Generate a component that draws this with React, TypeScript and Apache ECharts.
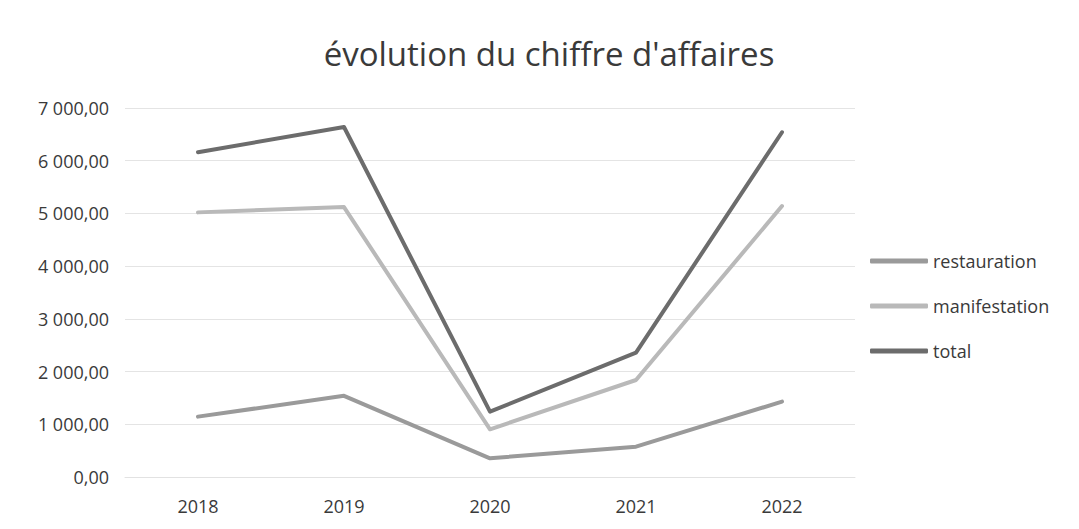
import React, { useEffect, useRef } from "react";
import * as echarts from "echarts";

const categories = ["2018", "2019", "2020", "2021", "2022"];
const restauration = [1145, 1540, 355, 575, 1430];
const manifestation = [5020, 5120, 905, 1840, 5140];
const total = [6160, 6640, 1240, 2360, 6540];
const seriesNames = ["restauration", "manifestation", "total"];
const colors = ["#9a9a9a", "#b9b9b9", "#6c6c6c"];

const FONT = "'Open Sans', sans-serif";

function fmt(v: number): string {
  const fixed = v.toFixed(2);
  const [int, dec] = fixed.split(".");
  const withSpace = int.replace(/\B(?=(\d{3})+(?!\d))/g, " ");
  return withSpace + "," + dec;
}

export default function App() {
  const ref = useRef<HTMLDivElement>(null);
  useEffect(() => {
    if (!ref.current) return;
    const chart = echarts.init(ref.current, undefined, { renderer: "svg" });
    const data = [restauration, manifestation, total];
    chart.setOption({
      animation: false,
      backgroundColor: "#ffffff",
      title: {
        text: "évolution du chiffre d'affaires",
        left: 536,
        top: 24,
        textAlign: "center",
        textStyle: { fontFamily: FONT, fontSize: 33, fontWeight: "normal", color: "#3a3a3a" },
      },
      legend: {
        orient: "vertical",
        left: 857,
        top: 239,
        itemWidth: 58,
        itemHeight: 5,
        itemGap: 27,
        icon: "roundRect",
        textStyle: { fontFamily: FONT, fontSize: 18, color: "#3a3a3a" },
        data: seriesNames,
      },
      grid: { left: 117, right: 216, top: 100, bottom: 44, containLabel: false },
      xAxis: {
        type: "category",
        data: categories,
        boundaryGap: true,
        axisLine: { show: true, lineStyle: { color: "#e2e2e2" } },
        axisTick: { show: false },
        axisLabel: { fontFamily: FONT, fontSize: 18, color: "#3a3a3a", margin: 20 },
      },
      yAxis: {
        type: "value",
        min: 0,
        max: 7000,
        interval: 1000,
        axisLine: { show: false },
        axisTick: { show: false },
        splitLine: { lineStyle: { color: "#e4e4e4", width: 1 } },
        axisLabel: {
          fontFamily: FONT,
          fontSize: 18,
          color: "#3a3a3a",
          margin: 16,
          formatter: (v: number) => fmt(v),
        },
      },
      series: seriesNames.map((name, i) => ({
        name,
        type: "line",
        data: data[i],
        symbol: "none",
        lineStyle: { color: colors[i], width: 4, cap: "round", join: "round" },
        itemStyle: { color: colors[i] },
        z: i === 2 ? 3 : 2,
      })),
    });
    return () => chart.dispose();
  }, []);
  return <div ref={ref} style={{ width: 1063, height: 513 }} />;
}
